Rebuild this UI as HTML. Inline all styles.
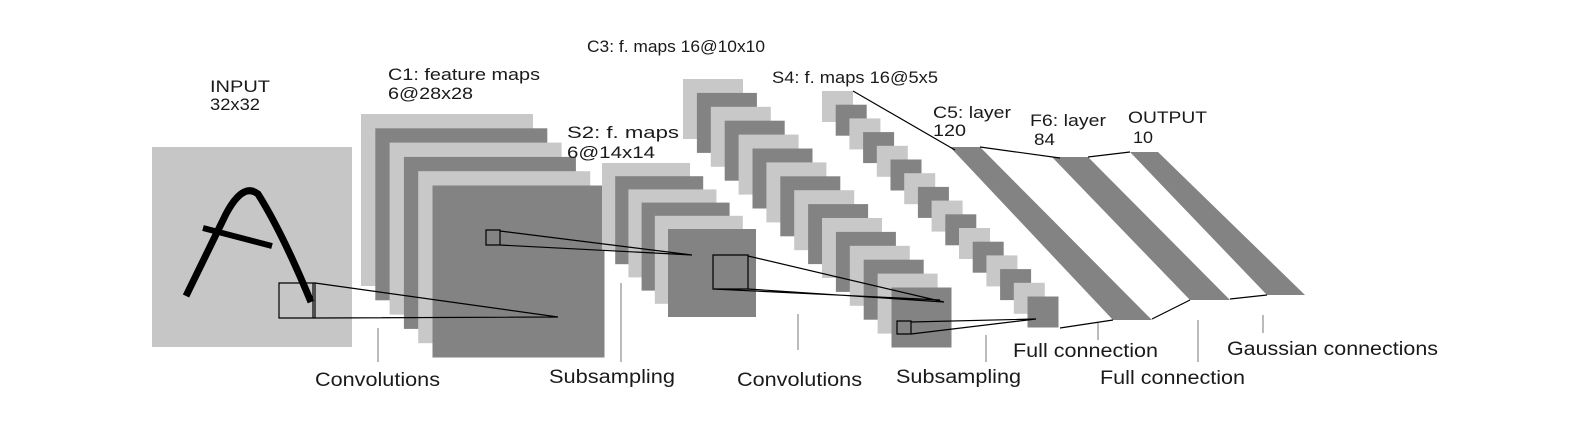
<!DOCTYPE html>
<html><head><meta charset="utf-8"><style>
html,body{margin:0;padding:0;background:#fff;}
svg{display:block;font-family:"Liberation Sans",Arial,sans-serif;}
text{fill:#1a1a1a;}
</style></head><body>
<svg id="chart" width="1570" height="442" viewBox="0 0 1570 442" xmlns="http://www.w3.org/2000/svg">
<rect x="152" y="147" width="200" height="200" fill="#c6c6c6"/>
<path d="M186,296 L226,214 Q243,182 258,194 Q282,232 311,302" fill="none" stroke="#000" stroke-width="7" stroke-linecap="butt"/>
<path d="M203,228 L272,246" stroke="#000" stroke-width="6"/>
<g id="stacks"></g>
<g id="fc"></g>
<g id="links" fill="none" stroke="#000" stroke-width="1.2"></g>
<g id="labels"></g>
</svg>
<script>
const layerNames = ['c1','s2','c3','s4'];
const layerCounts = [6, 6, 16, 16];
const layerSizes = [172, 88, 60, 31];
const layerX0 = [361, 602, 683, 822];
const layerY0 = [114, 163, 79, 91];
const layerStep = [14.3, 13.2, 13.9, 13.7];
const NS='http://www.w3.org/2000/svg';
const svg=document.getElementById('chart');
function mk(tag,attrs,parent){const e=document.createElementNS(NS,tag);for(const k in attrs)e.setAttribute(k,attrs[k]);parent.appendChild(e);return e;}
const stacks=document.getElementById('stacks');
layerNames.forEach((n,li)=>{
  for(let i=0;i<layerCounts[li];i++){
    const r=mk('rect',{x:layerX0[li]+i*layerStep[li],y:layerY0[li]+i*layerStep[li],width:layerSizes[li],height:layerSizes[li],fill:i%2?'#838383':'#c8c8c8'},stacks);
    
    
  }
});
const fcNames=['c5-layer','f6-layer','output-layer'];
const fcTop=[[950,147,980],[1052,157,1088],[1130,152,1158]];
const fcBot=[[1113,320,1152],[1190,300,1230],[1267,295,1305]];
const fc=document.getElementById('fc');
fcNames.forEach((n,i)=>{
  const t=fcTop[i],b=fcBot[i];
  const p=mk('polygon',{points:`${t[0]},${t[1]} ${t[2]},${t[1]} ${b[2]},${b[1]} ${b[0]},${b[1]}`,fill:'#838383'},fc);
  
  
});
const links=document.getElementById('links');
const linkPaths=[
 'M279,283 H315 V318 H279 Z M313,283 V318',
 'M315,283 L558,317 M315,318 L558,317',
 'M486,230 H500 V245 H486 Z M500,231 L692,255 M500,245 L692,255',
 'M713,255 H748 V289 H713 Z M748,256 L944,302 M748,289 L944,302 M713,289 L940,300',
 'M897,321 H911 V334 H897 Z M911,322 L1036,319 M911,334 L1036,319',
 'M853,91 L955,150 M980,147 L1060,158 M1088,157 L1130,152',
 'M1060,328 L1113,320 M1152,319 L1190,300 M1230,299 L1267,295'
];
linkPaths.forEach(d=>{const p=mk('path',{d:d},links);
  
  
});
const labels=document.getElementById('labels');
const textLabels=[
 ['input-label','INPUT',210,92,17,60],['input-size','32x32',210,110,17,50],
 ['c1-label','C1: feature maps',388,80,17,152],['c1-size','6@28x28',388,99,17,85],
 ['s2-label','S2: f. maps',567,138,17,112],['s2-size','6@14x14',567,158,17,88],
 ['c3-label','C3: f. maps 16@10x10',587,52,17,178],
 ['s4-label','S4: f. maps 16@5x5',772,83,17,166],
 ['c5-label','C5: layer',933,118,17,78],['c5-size','120',933,136,17,33],
 ['f6-label','F6: layer',1030,126,17,76],['f6-size','84',1034,145,17,21],
 ['output-label','OUTPUT',1128,123,17,79],['output-size','10',1133,143,17,20],
 ['convolutions-1','Convolutions',315,386,19,125],
 ['subsampling-1','Subsampling',549,383,19,126],
 ['convolutions-2','Convolutions',737,386,19,125],
 ['subsampling-2','Subsampling',896,383,19,125],
 ['full-connection-1','Full connection',1013,357,19,145],
 ['full-connection-2','Full connection',1100,384,19,145],
 ['gaussian-connections','Gaussian connections',1227,355,19,211]
];
const tickLines=[[378,328,362],[621,283,362],[798,314,350],[986,335,362],[1098,323,340],[1198,320,362],[1263,315,333]];
tickLines.forEach(t=>{const l=mk('line',{x1:t[0],x2:t[0],y1:t[1],y2:t[2],stroke:'#777','stroke-width':1},labels);
  
  
});
textLabels.forEach(t=>{const e=mk('text',{x:t[2],y:t[3],'font-size':t[4],textLength:t[5],lengthAdjust:'spacingAndGlyphs'},labels);e.textContent=t[1];
  
  
});
</script>
</body></html>
